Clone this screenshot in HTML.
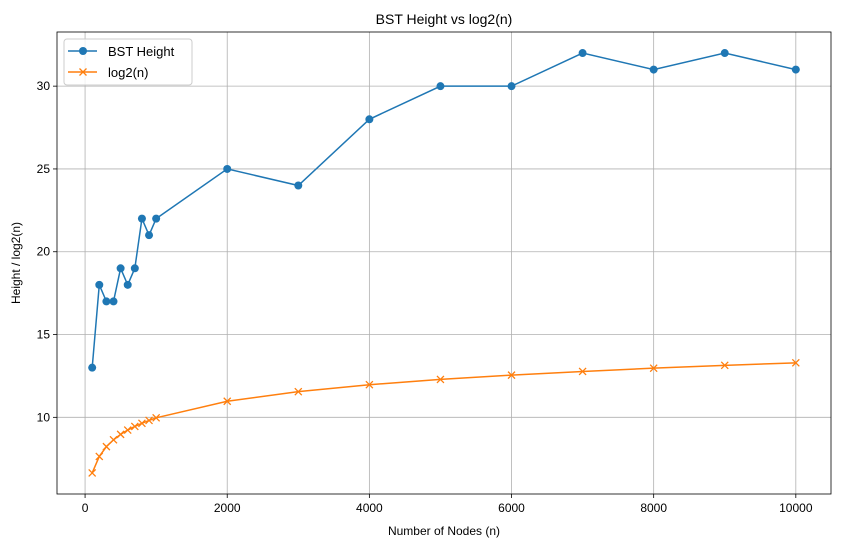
<!DOCTYPE html>
<html><head><meta charset="utf-8"><style>
body{margin:0;background:#fff;}
svg{font-family:"Liberation Sans","DejaVu Sans",sans-serif;}
</style></head><body>
<svg id="chart" width="841" height="547" xmlns="http://www.w3.org/2000/svg"></svg>
<script>
const xValues=[100,200,300,400,500,600,700,800,900,1000,2000,3000,4000,5000,6000,7000,8000,9000,10000];
const bstHeights=[13,18,17,17,19,18,19,22,21,22,25,24,28,30,30,32,31,32,31];
const log2Values=[6.64,7.64,8.23,8.64,8.97,9.23,9.45,9.64,9.81,9.97,10.97,11.55,11.97,12.29,12.55,12.77,12.97,13.14,13.29];
const xTicks=[0,2000,4000,6000,8000,10000];
const yTicks=[10,15,20,25,30];

const L=57,R=831,T=32,B=494;
const xMin=-395,xMax=10495,yMin=5.37,yMax=33.27;
const sx=v=>L+(v-xMin)/(xMax-xMin)*(R-L);
const sy=v=>B-(v-yMin)/(yMax-yMin)*(B-T);
const svg=document.getElementById('chart');
const NS='http://www.w3.org/2000/svg';
function mk(tag,attrs,parent){const e=document.createElementNS(NS,tag);for(const k in attrs)e.setAttribute(k,attrs[k]);(parent||svg).appendChild(e);return e;}

const grid=mk('g',{});


xTicks.forEach(t=>{
  mk('line',{x1:sx(t),x2:sx(t),y1:T,y2:B,stroke:'#b0b0b0','stroke-width':0.8},grid);
  mk('line',{x1:sx(t),x2:sx(t),y1:B,y2:B+4,stroke:'#000','stroke-width':0.8});
  const tx=mk('text',{x:sx(t),y:B+18,'text-anchor':'middle','font-size':12});
  tx.textContent=t;
  
  
});
yTicks.forEach(t=>{
  mk('line',{x1:L,x2:R,y1:sy(t),y2:sy(t),stroke:'#b0b0b0','stroke-width':0.8},grid);
  mk('line',{x1:L-4,x2:L,y1:sy(t),y2:sy(t),stroke:'#000','stroke-width':0.8});
  const tx=mk('text',{x:L-7,y:sy(t)+4,'text-anchor':'end','font-size':12});
  tx.textContent=t;
  
  
});

function series(vals,color,marker,name){
  const g=mk('g',{});
  
  
  mk('polyline',{points:xValues.map((x,i)=>sx(x)+','+sy(vals[i])).join(' '),fill:'none',stroke:color,'stroke-width':1.5},g);
  xValues.forEach((x,i)=>{
    const cx=sx(x),cy=sy(vals[i]);
    let m;
    if(marker==='o') m=mk('circle',{cx:cx,cy:cy,r:4,fill:color},g);
    else m=mk('path',{d:`M${cx-3.5},${cy-3.5}L${cx+3.5},${cy+3.5}M${cx-3.5},${cy+3.5}L${cx+3.5},${cy-3.5}`,stroke:color,'stroke-width':1.3},g);
    
    
  });
}
series(bstHeights,'#1f77b4','o','bst-height-series');
series(log2Values,'#ff7f0e','x','log2-series');

const frame=mk('rect',{x:L,y:T,width:R-L,height:B-T,fill:'none',stroke:'#000','stroke-width':0.8});



const title=mk('text',{x:(L+R)/2,y:T-8,'text-anchor':'middle','font-size':14});
title.textContent='BST Height vs log2(n)';


const xl=mk('text',{x:(L+R)/2,y:535,'text-anchor':'middle','font-size':12});
xl.textContent='Number of Nodes (n)';


const yl=mk('text',{x:20,y:(T+B)/2,'text-anchor':'middle','font-size':12,transform:`rotate(-90 20 ${(T+B)/2})`});
yl.textContent='Height / log2(n)';



const lg=mk('g',{});


mk('rect',{x:64,y:39,width:128,height:46,rx:3,fill:'#fff','fill-opacity':0.8,stroke:'#ccc'},lg);
const e1=mk('g',{},lg);


mk('line',{x1:68,x2:97,y1:51,y2:51,stroke:'#1f77b4','stroke-width':1.5},e1);
mk('circle',{cx:83,cy:51,r:4,fill:'#1f77b4'},e1);
mk('text',{x:108,y:56,'font-size':13},e1).textContent='BST Height';
const e2=mk('g',{},lg);


mk('line',{x1:68,x2:97,y1:72,y2:72,stroke:'#ff7f0e','stroke-width':1.5},e2);
mk('path',{d:'M79.5,68.5L86.5,75.5M79.5,75.5L86.5,68.5',stroke:'#ff7f0e','stroke-width':1.3},e2);
mk('text',{x:108,y:77,'font-size':13},e2).textContent='log2(n)';
</script>
</body></html>
